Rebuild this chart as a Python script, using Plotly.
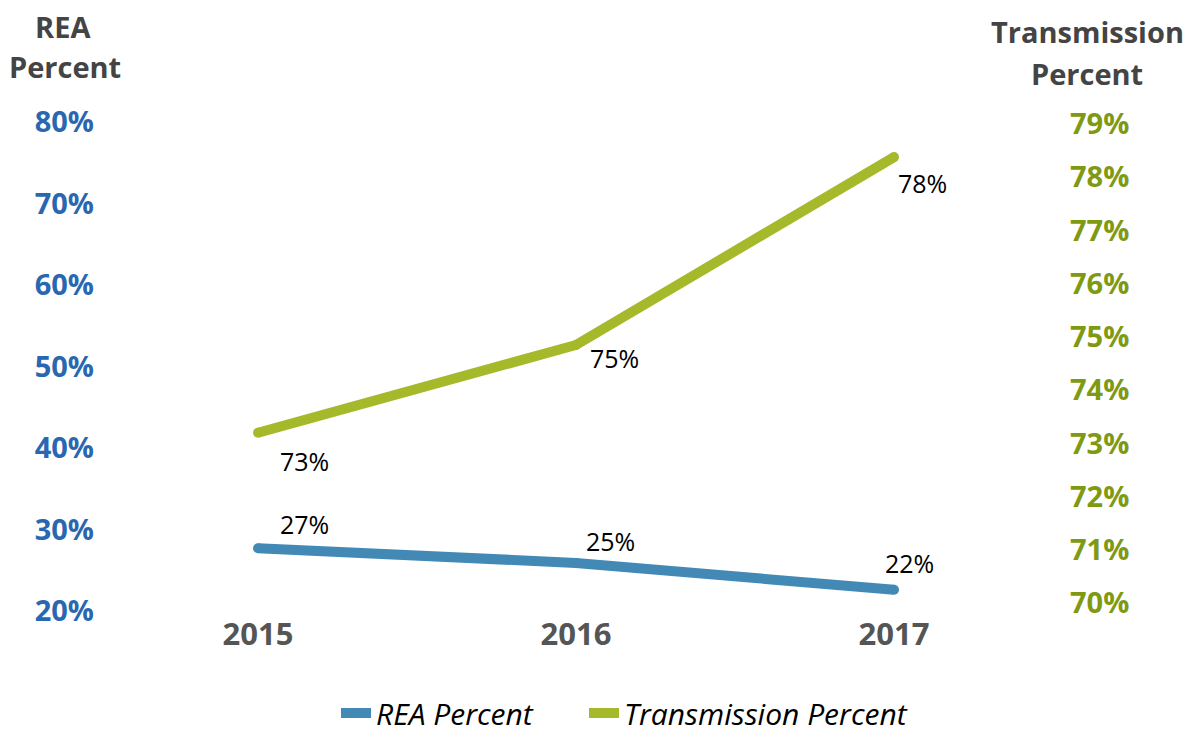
import plotly.graph_objects as go

years = ["2015", "2016", "2017"]
rea_values = [27.7, 25.9, 22.6]
trans_values = [73.2, 74.85, 78.38]
rea_labels = ["27%", "25%", "22%"]
trans_labels = ["73%", "75%", "78%"]
left_ticks = [20, 30, 40, 50, 60, 70, 80]
right_ticks = [70, 71, 72, 73, 74, 75, 76, 77, 78, 79]

REA_COLOR = "#4289B6"
TRANS_COLOR = "#A5B92A"
FONT = "Open Sans"

OFF = 8  # page body margin
FW, FH = 1192 - OFF, 740 - OFF

fig = go.Figure()
fig.add_trace(go.Scatter(x=years, y=rea_values, mode="lines+markers", name="<i>REA Percent</i>",
                         line=dict(color=REA_COLOR, width=10),
                         marker=dict(color=REA_COLOR, size=10, line=dict(width=0)),
                         yaxis="y", legend="legend"))
fig.add_trace(go.Scatter(x=years, y=trans_values, mode="lines+markers", name="<i>Transmission Percent</i>",
                         line=dict(color=TRANS_COLOR, width=10),
                         marker=dict(color=TRANS_COLOR, size=10, line=dict(width=0)),
                         yaxis="y2", legend="legend2"))

rea_off = [(46, 24), (34, 22), (15, 27)]
trans_off = [(46, -28), (38, -13), (28, -26)]
ann = []
for i, (v, t, (dx, dy)) in enumerate(zip(rea_values, rea_labels, rea_off)):
    ann.append(dict(x=i, y=v, xref="x", yref="y", text=t, showarrow=False,
                    xshift=dx, yshift=dy, font=dict(family=FONT, size=25, color="#000")))
for i, (v, t, (dx, dy)) in enumerate(zip(trans_values, trans_labels, trans_off)):
    ann.append(dict(x=i, y=v, xref="x", yref="y2", text=t, showarrow=False,
                    xshift=dx, yshift=dy, font=dict(family=FONT, size=25, color="#000")))

title_font = dict(family=FONT, size=29, color="#444444")
# reference pixel positions (page coords)
L_ref, R_ref, T_ref, B_ref = 99, 1053, 122, 611
L = L_ref - OFF
T = T_ref - OFF
W = R_ref - L_ref
H = B_ref - T_ref
def px(xp):
    return (xp - L_ref) / W
def py(yp):
    return (B_ref - yp) / H

ann += [
    dict(text="<b>REA</b>", xref="paper", yref="paper", x=px(63), y=py(26), showarrow=False,
         xanchor="center", yanchor="middle", font=title_font),
    dict(text="<b>Percent</b>", xref="paper", yref="paper", x=px(65), y=py(67), showarrow=False,
         xanchor="center", yanchor="middle", font=title_font),
    dict(text="<b>Transmission</b>", xref="paper", yref="paper", x=px(1087), y=py(32), showarrow=False,
         xanchor="center", yanchor="middle", font=title_font),
    dict(text="<b>Percent</b>", xref="paper", yref="paper", x=px(1087), y=py(74), showarrow=False,
         xanchor="center", yanchor="middle", font=title_font),
]

legend_font = dict(family=FONT, size=30, color="#000")
fig.update_layout(
    width=FW, height=FH,
    margin=dict(l=L, r=FW - L - W, t=T, b=FH - T - H, autoexpand=False),
    paper_bgcolor="white", plot_bgcolor="white",
    showlegend=True,
    legend=dict(orientation="h", x=px(336), xanchor="left",
                y=py(739), yanchor="bottom", font=legend_font),
    legend2=dict(orientation="h", x=px(584), xanchor="left",
                 y=py(739), yanchor="bottom", font=legend_font),
    xaxis=dict(type="category", range=[-0.5, 2.5], showgrid=False, zeroline=False, showline=False,
               ticks="", tickfont=dict(family=FONT, size=31, color="#555555", weight="bold"),
               ticklabelstandoff=2),
    yaxis=dict(range=[20, 80], tickvals=left_ticks, ticktext=[f"{v}%" for v in left_ticks],
               showgrid=False, zeroline=False, showline=False, ticks="",
               tickfont=dict(family=FONT, size=29, color="#2A67B1", weight="bold"),
               ticklabelstandoff=4),
    yaxis2=dict(range=[69.85, 79.04], overlaying="y", side="right", tickvals=right_ticks,
                ticktext=[f"{v}%" for v in right_ticks], showgrid=False, zeroline=False,
                showline=False, ticks="",
                tickfont=dict(family=FONT, size=29, color="#7F9A12", weight="bold"),
                ticklabelstandoff=16),
    annotations=ann,
)

fig.write_html("out.html")
